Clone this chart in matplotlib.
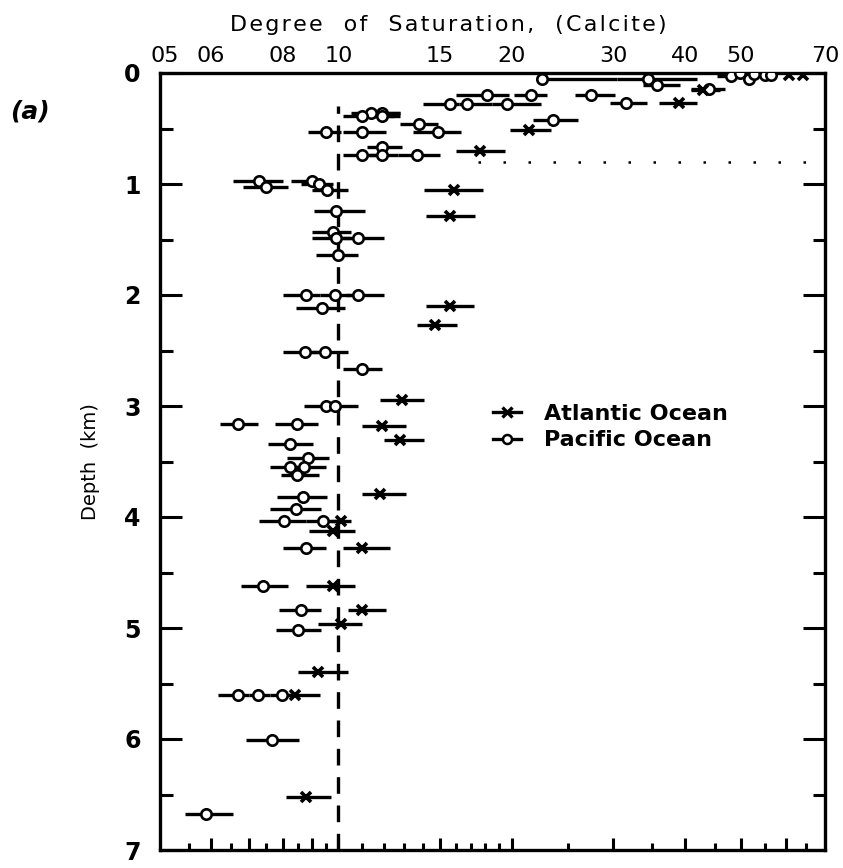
import matplotlib
matplotlib.use("Agg")
import matplotlib.pyplot as plt
import numpy as np

# --- data (depth km, saturation, error bar low/high) ---
pac_depth = [0.05, 0.05, 0.11, 0.14, 0.03, 0.00, 0.05, 0.01, 0.02, 0.02,
             0.20, 0.20, 0.20, 0.28, 0.28, 0.28, 0.27,
             0.36, 0.36, 0.39, 0.39, 0.42, 0.46, 0.53, 0.53, 0.53,
             0.67, 0.74, 0.74, 0.74,
             0.97, 1.03, 0.97, 1.00, 1.05, 1.24, 1.43, 1.49, 1.49, 1.64,
             2.00, 2.00, 2.00, 2.12, 2.51, 2.51, 2.67,
             3.00, 3.00, 3.16, 3.16, 3.34, 3.47, 3.55, 3.55, 3.62, 3.82, 3.93,
             4.04, 4.04, 4.28, 4.62, 4.84, 5.02,
             5.60, 5.60, 5.60, 6.01, 6.68]
pac_val = [2.26, 3.45, 3.58, 4.40, 4.80, 4.98, 5.16, 5.28, 5.51, 5.64,
           1.81, 2.16, 2.75, 1.56, 1.67, 1.96, 3.16,
           1.14, 1.19, 1.10, 1.19, 2.36, 1.38, 0.95, 1.10, 1.49,
           1.19, 1.10, 1.19, 1.37,
           0.728, 0.749, 0.90, 0.924, 0.957, 0.99, 0.98, 0.99, 1.08, 1.00,
           0.877, 0.988, 1.082, 0.935, 0.874, 0.946, 1.10,
           0.95, 0.988, 0.67, 0.847, 0.824, 0.884, 0.824, 0.87, 0.847, 0.867, 0.843,
           0.804, 0.939, 0.877, 0.74, 0.86, 0.85,
           0.67, 0.726, 0.798, 0.767, 0.588]
pac_lo = [2.24, 3.05, 3.38, 4.10, 4.55, 4.98, 5.16, 5.28, 5.51, 5.64,
          1.60, 2.02, 2.58, 1.40, 1.62, 1.85, 2.96,
          1.05, 1.10, 1.02, 1.10, 2.18, 1.28, 0.885, 1.02, 1.35,
          1.12, 1.02, 1.13, 1.27,
          0.657, 0.684, 0.827, 0.86, 0.90, 0.906, 0.90, 0.90, 1.02, 0.913,
          0.80, 0.93, 1.03, 0.843, 0.80, 0.90, 1.02,
          0.87, 0.97, 0.622, 0.776, 0.755, 0.813, 0.76, 0.83, 0.795, 0.782, 0.76,
          0.728, 0.88, 0.80, 0.678, 0.79, 0.779,
          0.617, 0.70, 0.76, 0.692, 0.541]
pac_hi = [3.05, 4.20, 3.92, 4.70, 4.95, 4.98, 5.16, 5.28, 5.51, 5.64,
          1.98, 2.30, 3.02, 1.62, 1.85, 2.25, 3.43,
          1.28, 1.28, 1.25, 1.28, 2.61, 1.49, 1.01, 1.21, 1.63,
          1.29, 1.16, 1.27, 1.50,
          0.80, 0.817, 0.94, 0.98, 1.04, 1.113, 1.05, 1.05, 1.20, 1.08,
          0.93, 1.05, 1.20, 1.028, 0.92, 1.04, 1.19,
          0.97, 1.08, 0.726, 0.92, 0.905, 0.965, 0.87, 0.95, 0.924, 0.957, 0.931,
          0.88, 1.00, 0.95, 0.817, 0.931, 0.931,
          0.70, 0.76, 0.83, 0.853, 0.657]

atl_depth = [0.02, 0.02, 0.15, 0.27, 0.51, 0.70, 1.05, 1.29, 2.10, 2.27,
             2.95, 3.18, 3.31, 3.79, 4.04, 4.13, 4.28, 4.62, 4.84, 4.96,
             5.40, 5.60, 6.52]
atl_val = [6.07, 6.42, 4.30, 3.90, 2.14, 1.76, 1.59, 1.56, 1.56, 1.47,
           1.29, 1.19, 1.28, 1.18, 1.01, 0.98, 1.10, 0.98, 1.10, 1.01,
           0.92, 0.84, 0.88]
atl_lo = [6.07, 6.42, 4.10, 3.60, 1.99, 1.60, 1.41, 1.42, 1.42, 1.37,
          1.18, 1.10, 1.20, 1.10, 0.97, 0.89, 1.02, 0.88, 1.04, 0.92,
          0.85, 0.81, 0.81]
atl_hi = [6.07, 6.42, 4.60, 4.20, 2.34, 1.95, 1.78, 1.73, 1.72, 1.61,
          1.41, 1.31, 1.41, 1.31, 1.05, 1.07, 1.23, 1.07, 1.21, 1.10,
          1.04, 0.93, 0.97]

top_labels = ["05", "06", "08", "10", "15", "20", "30", "40", "50", "70"]
top_label_vals = [0.5, 0.6, 0.8, 1.0, 1.5, 2.0, 3.0, 4.0, 5.0, 7.0]
x_major = [0.6, 0.7, 0.8, 0.9, 1.0, 1.5, 2.0, 3.0, 4.0, 5.0, 6.0]
x_minor = [0.55, 0.65, 0.75, 0.85, 0.95, 1.1, 1.2, 1.3, 1.4, 1.6, 1.7, 1.8, 1.9,
           2.5, 3.5, 4.5, 5.5, 6.5]

FONT = "DejaVu Sans"
plt.rcParams["font.family"] = FONT

fig = plt.figure(figsize=(8.43, 8.68), dpi=100)
# axes box: x 160..825 px, y 73..850 px
ax = fig.add_axes([160 / 843, 1 - 850 / 868, 665 / 843, 777 / 868])

ax.set_xscale("log")
ax.set_xlim(0.49, 7.0)
ax.set_ylim(7, 0)

# saturation = 1 line
ax.axvline(1.0, ymin=0, ymax=1 - 0.3 / 7, color="black", lw=2.4,
           linestyle=(0, (5, 3.5)), zorder=1)
# faint dotted trace across the upper part
ax.plot([1.75, 6.9], [0.8, 0.8], color="black", lw=1.8,
        linestyle=(0, (1, 9)), zorder=1)

def draw(depth, val, lo, hi, marker, ms, mfc, mew):
    d = np.array(depth)
    v = np.array(val)
    err = [v - np.array(lo), np.array(hi) - v]
    ax.errorbar(v, d, xerr=err, fmt="none", ecolor="black", elinewidth=2.4,
                capsize=0, zorder=2)
    ax.plot(v, d, linestyle="none", marker=marker, ms=ms, mfc=mfc,
            mec="black", mew=mew, zorder=3)

draw(pac_depth, pac_val, pac_lo, pac_hi, "o", 7.5, "white", 1.9)
draw(atl_depth, atl_val, atl_lo, atl_hi, "x", 7.5, "black", 2.6)

# legend
h_atl, = ax.plot([], [], color="black", lw=2.4, marker="x", ms=7, mew=2.4)
h_pac, = ax.plot([], [], color="black", lw=2.4, marker="o", ms=6.5,
                 mfc="white", mew=1.8)
ax.legend([h_atl, h_pac], ["Atlantic Ocean", "Pacific Ocean"],
          loc="upper left", bbox_to_anchor=(0.47, 0.6), frameon=False,
          handlelength=1.3, handletextpad=1.0, labelspacing=0.3,
          prop={"family": FONT, "weight": "bold", "size": 16})

# ticks
ax.xaxis.set_major_locator(matplotlib.ticker.FixedLocator(x_major))
ax.xaxis.set_minor_locator(matplotlib.ticker.FixedLocator(x_minor))
ax.xaxis.set_major_formatter(matplotlib.ticker.NullFormatter())
ax.xaxis.set_minor_formatter(matplotlib.ticker.NullFormatter())
ax.tick_params(axis="x", which="major", direction="in", top=True, bottom=True,
               length=9, width=2.2)
ax.tick_params(axis="x", which="minor", direction="in", top=True, bottom=True,
               length=5, width=2.2)

ax.set_yticks(np.arange(0, 8, 1))
ax.set_yticks(np.arange(0.5, 7, 1), minor=True)
ax.set_yticklabels([str(i) for i in range(8)])
ax.tick_params(axis="y", which="major", direction="in", left=True, right=True,
               length=16, width=2.2, pad=14, labelsize=17)
ax.tick_params(axis="y", which="minor", direction="in", left=True, right=True,
               length=9, width=2.2)
for t in ax.get_yticklabels():
    t.set_fontweight("bold")

for s in ax.spines.values():
    s.set_linewidth(2.4)

# top labels on a twin axis sharing the same log scale
ax2 = ax.twiny()
ax2.set_xscale("log")
ax2.set_xlim(ax.get_xlim())
ax2.xaxis.set_major_locator(matplotlib.ticker.FixedLocator(top_label_vals))
ax2.xaxis.set_minor_locator(matplotlib.ticker.NullLocator())
ax2.set_xticklabels(top_labels)
ax2.tick_params(axis="x", length=0, pad=5, labelsize=16)
for s in ax2.spines.values():
    s.set_visible(False)

title = "\u200a".join("Degree  of  Saturation,  (Calcite)")
fig.text(448 / 843, 1 - 25 / 868, title, fontsize=16, ha="center", va="center")

ax.set_ylabel("Depth  (km)", fontsize=14)
ax.yaxis.set_label_coords(-0.09, 0.5)

fig.text(0.012, 1 - 112 / 868, "(a)", fontsize=18, style="italic",
         fontweight="bold", va="center")

fig.savefig("out.png", dpi=100)
